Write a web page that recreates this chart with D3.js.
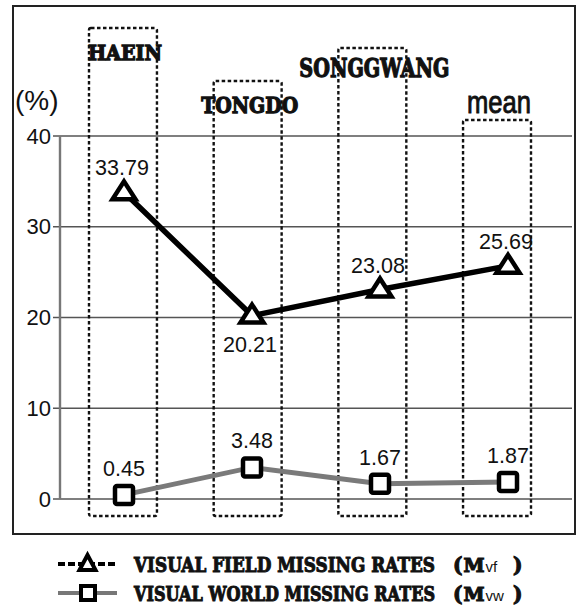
<!DOCTYPE html>
<html><head><meta charset="utf-8">
<script src="https://cdn.jsdelivr.net/npm/d3@7"></script>
<style>body{margin:0;background:#fff}svg{display:block}</style>
</head><body>
<svg id="chart" width="576" height="611"></svg>
<script>
// ---------- data ----------
const categories = ["HAEIN", "TONGDO", "SONGGWANG", "mean"];
const visualFieldRates = [33.79, 20.21, 23.08, 25.69];
const visualWorldRates = [0.45, 3.48, 1.67, 1.87];
const yTicks = [0, 10, 20, 30, 40];
const vfLabelSide = ["above", "below", "above", "above"];
const legendLabels = ["VISUAL FIELD MISSING RATES", "VISUAL WORLD MISSING RATES"];
const legendSubs = ["vf", "vw"];
const yUnit = "(%)";

// ---------- layout ----------
const frame = {x: 13, y: 6, x2: 575, y2: 534};
const plot = {left: 60, right: 572, top: 136, bottom: 499};
const boxTop = [28, 81, 48, 120];
const boxBottom = 516;
const catLabelBaseline = [60, 113, 77, 113];
const catLabelSize = [21, 23, 26, 32];
const catLabelWidth = [74, 97, 150, 64];
const stencil = "'DejaVu Serif','Liberation Serif',serif";
const sans = "'Liberation Sans',Arial,sans-serif";

const svg = d3.select("#chart");
svg.append("rect").attr("width", 576).attr("height", 611).attr("fill", "#fff");

const x = d3.scalePoint().domain(categories).range([plot.left, plot.right]).padding(0.5);
const xBox = d3.scaleBand().domain(categories).range([89, 531]).paddingInner(0.455).paddingOuter(0);
const y = d3.scaleLinear().domain([0, 40]).range([plot.bottom, plot.top]);

// frame
svg.append("rect")
  .attr("x", frame.x).attr("y", frame.y)
  .attr("width", frame.x2 - frame.x).attr("height", frame.y2 - frame.y)
  .attr("fill", "none").attr("stroke", "#222").attr("stroke-width", 2);

// gridlines
svg.append("g").selectAll("line").data(yTicks).join("line")
  .attr("x1", plot.left - 7).attr("x2", plot.right)
  .attr("y1", d => y(d)).attr("y2", d => y(d))
  .attr("stroke", "#555").attr("stroke-width", 1.6);

// y axis line
svg.append("line")
  .attr("x1", plot.left).attr("x2", plot.left)
  .attr("y1", y(40)).attr("y2", y(0))
  .attr("stroke", "#777").attr("stroke-width", 2.4);

// tick labels
svg.append("g").selectAll("text").data(yTicks).join("text")
  .attr("x", plot.left - 9).attr("y", d => y(d))
  .attr("text-anchor", "end").attr("dominant-baseline", "central")
  .attr("font-family", sans).attr("font-size", 22).attr("fill", "#111")
  .text(d => d);

svg.append("text").attr("x", 15).attr("y", 110)
  .attr("font-family", sans).attr("font-size", 28).attr("fill", "#111")
  .text(yUnit);

// dotted boxes
svg.append("g").selectAll("rect").data(categories).join("rect")
  .attr("x", d => xBox(d)).attr("width", xBox.bandwidth())
  .attr("y", (d, i) => boxTop[i]).attr("height", (d, i) => boxBottom - boxTop[i])
  .attr("rx", 2)
  .attr("fill", "none").attr("stroke", "#111").attr("stroke-width", 2.4)
  .attr("stroke-dasharray", "3.5,2.5");

// category labels
svg.append("g").selectAll("text").data(categories).join("text")
  .attr("x", d => xBox(d) + xBox.bandwidth() / 2 + 2)
  .attr("y", (d, i) => catLabelBaseline[i])
  .attr("text-anchor", "middle")
  .attr("font-family", (d, i) => i === 3 ? sans : stencil)
  .attr("font-weight", (d, i) => i === 3 ? "normal" : "bold")
  .attr("font-size", (d, i) => catLabelSize[i])
  .attr("textLength", (d, i) => catLabelWidth[i])
  .attr("lengthAdjust", "spacingAndGlyphs")
  .attr("fill", "#111")
  .attr("stroke", "#111")
  .attr("stroke-width", (d, i) => i === 3 ? 0.9 : 1.3)
  .text(d => d);

// lines
const line = d3.line().x((d, i) => x(categories[i])).y(d => y(d));
svg.append("path").datum(visualWorldRates).attr("d", line)
  .attr("fill", "none").attr("stroke", "#7a7a7a").attr("stroke-width", 5);
svg.append("path").datum(visualFieldRates).attr("d", line)
  .attr("fill", "none").attr("stroke", "#000").attr("stroke-width", 5.5);

// markers
function triPath(cx, cy, hw, up, down) {
  return `M${cx},${cy - up}L${cx + hw},${cy + down}L${cx - hw},${cy + down}Z`;
}
svg.append("g").selectAll("path").data(visualFieldRates).join("path")
  .attr("d", (d, i) => triPath(x(categories[i]), y(d) - 1, 11.5, 10, 8))
  .attr("fill", "#fff").attr("stroke", "#000").attr("stroke-width", 4.5)
  .attr("stroke-linejoin", "miter");
svg.append("g").selectAll("rect").data(visualWorldRates).join("rect")
  .attr("x", (d, i) => x(categories[i]) - 9).attr("y", d => y(d) - 9)
  .attr("width", 18).attr("height", 18).attr("rx", 2)
  .attr("fill", "#fff").attr("stroke", "#000").attr("stroke-width", 4.5);

// value labels
svg.append("g").selectAll("text").data(visualFieldRates).join("text")
  .attr("x", (d, i) => x(categories[i]) - 2)
  .attr("y", (d, i) => vfLabelSide[i] === "above" ? y(d) - 17 : y(d) + 36)
  .attr("text-anchor", "middle")
  .attr("font-family", sans).attr("font-size", 21.5).attr("fill", "#111")
  .text(d => d.toFixed(2));
svg.append("g").selectAll("text").data(visualWorldRates).join("text")
  .attr("x", (d, i) => x(categories[i]))
  .attr("y", d => y(d) - 19)
  .attr("text-anchor", "middle")
  .attr("font-family", sans).attr("font-size", 21.5).attr("fill", "#111")
  .text(d => d.toFixed(2));

// legend
const legendRows = [564, 593];
const lg = svg.append("g");
lg.append("line").attr("x1", 58).attr("x2", 117).attr("y1", legendRows[0]).attr("y2", legendRows[0])
  .attr("stroke", "#000").attr("stroke-width", 4).attr("stroke-dasharray", "7,3");
lg.append("path").attr("d", triPath(87.5, legendRows[0], 8, 9, 6))
  .attr("fill", "#fff").attr("stroke", "#000").attr("stroke-width", 4);
lg.append("line").attr("x1", 58).attr("x2", 117).attr("y1", legendRows[1]).attr("y2", legendRows[1])
  .attr("stroke", "#777").attr("stroke-width", 4);
lg.append("rect").attr("x", 81).attr("y", legendRows[1] - 7).attr("width", 14).attr("height", 14)
  .attr("fill", "#fff").attr("stroke", "#000").attr("stroke-width", 4);

function boldText(xp, yp, s, size) {
  return lg.append("text").attr("x", xp).attr("y", yp)
    .attr("font-family", stencil).attr("font-weight", "bold").attr("font-size", size)
    .attr("fill", "#111").attr("stroke", "#111").attr("stroke-width", 1.1).text(s);
}
legendLabels.forEach((lab, i) => {
  const base = legendRows[i] + 8;
  boldText(134, base, lab, 21)
    .attr("textLength", 301).attr("lengthAdjust", "spacingAndGlyphs");
  const p = boldText(453, base, "(", 20);
  const pEnd = 453 + p.node().getComputedTextLength();
  const m = boldText(pEnd + 1, base, "M", 19);
  const mEnd = pEnd + 1 + m.node().getComputedTextLength();
  lg.append("text").attr("x", mEnd + 1).attr("y", base)
    .attr("font-family", sans).attr("font-size", 15).attr("fill", "#111").text(legendSubs[i]);
  boldText(513, base, ")", 20);
});
</script>
</body></html>
